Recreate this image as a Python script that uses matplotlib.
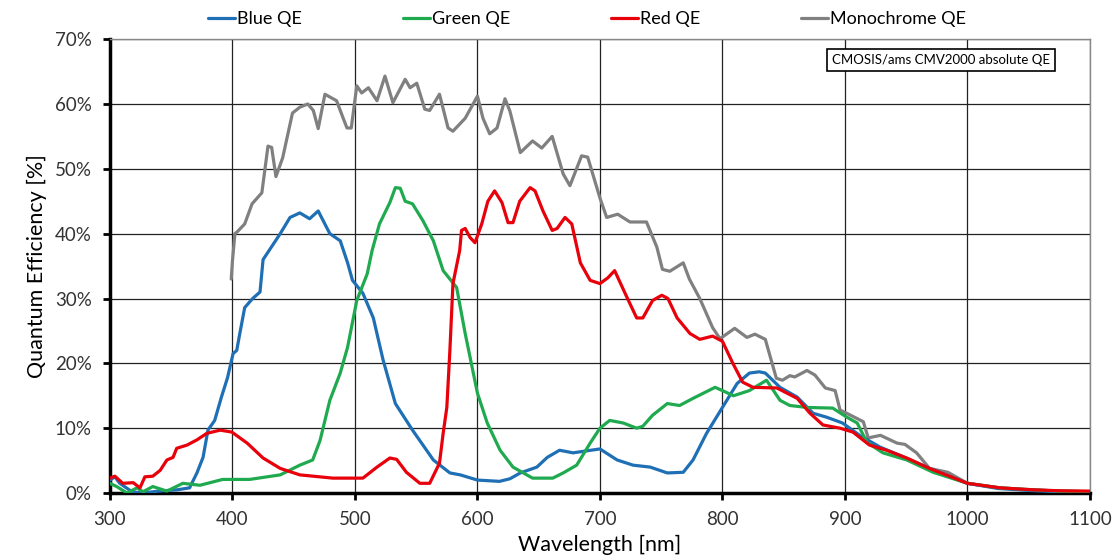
import matplotlib
matplotlib.use('Agg')
import matplotlib.pyplot as plt
from matplotlib.ticker import FuncFormatter, MultipleLocator

plt.rcParams['font.family'] = ['Lato', 'DejaVu Sans']

# Monochrome QE
mono_wl = [399, 400, 402, 404, 410, 416, 424, 429, 432, 435.5,
           441, 449, 455, 461.5, 466, 470, 475.5, 485, 490, 493.5,
           497, 501.5, 505.5, 511, 518, 524.5, 531, 541, 545, 550.5,
           557, 561, 569, 576, 580, 590, 600, 604.5, 610, 616,
           622.5, 626.5, 635, 645, 652.5, 661, 670, 675.5, 685, 690,
           700, 705.5, 714.5, 724.5, 738, 746.5, 751, 757, 768, 773,
           781.5, 792, 798, 810, 820, 826.5, 835, 844, 849, 855,
           859, 869, 875.5, 884, 892, 896, 902.5, 915, 919, 929,
           942.5, 949, 958.5, 969, 984, 1000, 1026, 1050, 1075, 1100]
mono_qe = [33.0, 35.8, 40.0, 40.3, 41.5, 44.6, 46.3, 53.5, 53.3, 48.8,
           51.7, 58.6, 59.5, 60.0, 59.0, 56.2, 61.5, 60.5, 58.0, 56.3,
           56.3, 62.8, 61.7, 62.5, 60.5, 64.3, 60.2, 63.8, 62.5, 63.2,
           59.2, 59.0, 61.5, 56.3, 55.8, 57.8, 61.2, 57.8, 55.4, 56.3,
           60.8, 58.9, 52.5, 54.3, 53.2, 55.0, 49.2, 47.4, 52.0, 51.8,
           45.5, 42.5, 43.0, 41.8, 41.8, 37.9, 34.5, 34.2, 35.5, 33.0,
           30.0, 25.5, 23.8, 25.4, 24.0, 24.5, 23.7, 17.7, 17.4, 18.1,
           17.9, 18.9, 18.2, 16.2, 15.8, 12.8, 12.2, 11.0, 8.5, 8.9,
           7.7, 7.5, 6.2, 3.8, 3.2, 1.5, 0.8, 0.5, 0.3, 0.2]

# Blue QE
blue_wl = [300, 304, 308, 318, 326, 340, 355, 365, 371, 376,
           380, 385.5, 391, 396, 400.5, 403.5, 406, 410, 416.5, 422.5,
           425, 439, 447, 455, 463, 470, 479.5, 488, 494, 498,
           506.5, 515, 523, 533, 547, 564, 577.5, 586, 600, 618,
           626.5, 635, 648.5, 657, 667, 678, 700, 714, 727, 741,
           755, 768, 776, 787, 800, 812, 822, 830, 835, 847,
           861, 874, 885, 898, 912, 928.5, 945, 969, 1000, 1025,
           1050, 1075, 1100]
blue_qe = [2.0, 2.5, 1.5, 0.2, 0.0, 0.3, 0.5, 0.8, 3.1, 5.5,
           9.7, 11.2, 14.8, 17.8, 21.5, 22.0, 24.6, 28.6, 30.0, 31.0,
           36.0, 40.0, 42.5, 43.2, 42.3, 43.5, 40.0, 38.9, 35.5, 32.8,
           30.8, 27.0, 20.5, 13.8, 9.7, 5.1, 3.1, 2.8, 2.0, 1.8,
           2.2, 3.1, 4.0, 5.5, 6.6, 6.2, 6.8, 5.1, 4.3, 4.0,
           3.1, 3.2, 5.1, 9.2, 13.2, 16.9, 18.5, 18.7, 18.5, 16.3,
           14.8, 12.3, 11.7, 10.8, 8.9, 7.1, 5.8, 3.8, 1.5, 0.7,
           0.4, 0.2, 0.1]

# Green QE
green_wl = [300, 305.5, 314, 322, 327, 335, 346.5, 359.5, 373.5, 392,
            414, 439, 455, 465.5, 471.5, 479.5, 488, 494, 501.5, 510,
            514, 520, 528.5, 533, 537, 541, 547, 555.5, 564, 572,
            583, 590, 600, 608, 618.5, 629, 645, 661.5, 670, 681,
            692, 700, 708, 719, 730, 735, 743, 755, 765, 776,
            794, 800, 809, 822, 836, 847, 855, 869, 890, 901.5,
            910, 918, 931, 950.5, 972, 1000, 1026.5, 1053.5, 1075, 1100]
green_qe = [1.5, 1.0, 0.0, 0.8, 0.2, 1.0, 0.3, 1.5, 1.2, 2.1,
            2.1, 2.8, 4.3, 5.1, 8.1, 14.3, 18.5, 22.5, 29.7, 33.8,
            37.4, 41.5, 44.8, 47.1, 47.0, 45.0, 44.6, 42.0, 38.9, 34.3,
            31.7, 24.6, 15.4, 10.8, 6.6, 4.0, 2.3, 2.3, 3.1, 4.3,
            7.7, 10.0, 11.2, 10.8, 10.0, 10.3, 12.0, 13.8, 13.5, 14.6,
            16.3, 15.8, 15.0, 15.8, 17.4, 14.3, 13.5, 13.2, 13.1, 11.7,
            10.8, 7.8, 6.2, 5.1, 3.2, 1.5, 0.8, 0.5, 0.3, 0.2]

# Red QE
red_wl = [300, 304, 310.5, 319, 324.5, 328.5, 335, 341, 346.5, 351.5,
          354.5, 363, 371, 379, 390, 399.5, 412, 425, 439, 455,
          482, 506.5, 518, 528.5, 534, 542, 553, 561, 569, 572,
          575, 577.5, 580, 585.5, 587, 590, 594, 598, 603.5, 608.5,
          614, 620, 625, 629, 634.5, 643, 647, 653.5, 661, 665,
          671.5, 677, 684, 692, 700, 706.5, 712, 722, 730, 735,
          743, 750.5, 755.5, 763, 773.5, 781.5, 792, 800, 808.5, 816.5,
          825, 844.5, 861, 871.5, 882, 896, 906.5, 920, 934, 950.5,
          969, 1000, 1026.5, 1053.5, 1075, 1100]
red_qe = [2.3, 2.6, 1.5, 1.6, 0.8, 2.5, 2.6, 3.5, 5.1, 5.5,
          6.9, 7.4, 8.2, 9.2, 9.7, 9.4, 7.7, 5.4, 3.8, 2.8,
          2.3, 2.3, 4.0, 5.4, 5.2, 3.2, 1.5, 1.5, 4.6, 9.2,
          13.2, 22.0, 32.3, 37.4, 40.5, 40.8, 39.4, 38.6, 41.5, 45.0,
          46.6, 44.8, 41.7, 41.7, 45.0, 47.1, 46.6, 43.5, 40.5, 40.8,
          42.5, 41.5, 35.5, 32.8, 32.3, 33.2, 34.3, 30.2, 27.0, 27.0,
          29.7, 30.5, 30.0, 27.0, 24.6, 23.7, 24.2, 23.4, 20.0, 17.1,
          16.3, 16.2, 14.6, 12.3, 10.5, 10.0, 9.4, 7.4, 6.6, 5.4,
          3.8, 1.5, 0.8, 0.5, 0.35, 0.3]

fig = plt.figure(figsize=(11.14, 5.59), dpi=100)
ax = fig.add_axes([0.0987, 0.118, 0.8797, 0.812])

# round joins so the traces look less jagged
lw = 2.3
style = dict(lw=lw, solid_joinstyle='round', solid_capstyle='round')
ax.plot(blue_wl, blue_qe, color='#1f6fb5', label='Blue QE', zorder=3, **style)
ax.plot(green_wl, green_qe, color='#1faa4f', label='Green QE', zorder=3, **style)
ax.plot(red_wl, red_qe, color='#e8000b', label='Red QE', zorder=4, **style)
ax.plot(mono_wl, mono_qe, color='#808080', label='Monochrome QE', zorder=2, **style)

ax.set_xlim(300, 1100)
ax.set_ylim(0, 70)
ax.xaxis.set_major_locator(MultipleLocator(100))
ax.yaxis.set_major_locator(MultipleLocator(10))
ax.yaxis.set_major_formatter(FuncFormatter(lambda v, p: f'{v:.0f}%'))
ax.grid(True, color='#222222', lw=0.9)
ax.set_axisbelow(True)

for s in ['left', 'bottom']:
    ax.spines[s].set_linewidth(2.5)
    ax.spines[s].set_color('black')
for s in ['top', 'right']:
    ax.spines[s].set_linewidth(1.0)
    ax.spines[s].set_color('#888888')

ax.tick_params(axis='both', direction='out', length=5, width=2, labelsize=13.5,
               colors='black', labelcolor='#333333', pad=8)
ax.set_xlabel('Wavelength [nm]', fontsize=15.5, labelpad=5)
ax.set_ylabel('Quantum Efficiency [%]', fontsize=15.5, labelpad=6)

ax.text(0.848, 0.954, 'CMOSIS/ams CMV2000 absolute QE', transform=ax.transAxes,
        ha='center', va='center', fontsize=9.5,
        bbox=dict(boxstyle='square,pad=0.35', fc='white', ec='black', lw=1.2))

fig.legend(loc='center left', bbox_to_anchor=(0.172, 0.966), ncol=4, frameon=False,
           fontsize=13, handlelength=1.5, handletextpad=0.1, columnspacing=5.6)

fig.savefig('out.png', dpi=100)
